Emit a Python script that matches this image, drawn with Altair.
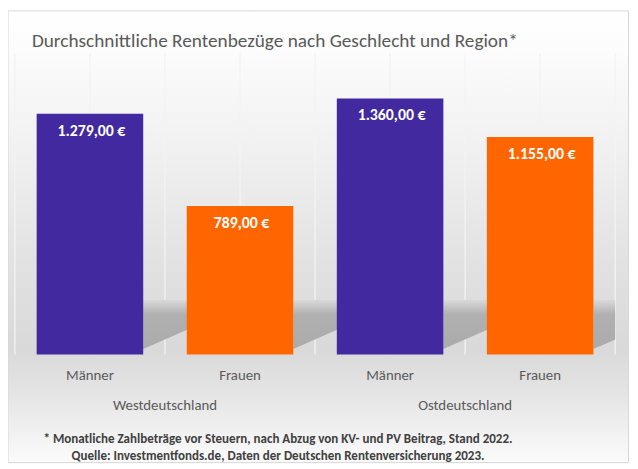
import altair as alt
import pandas as pd

# ---------------- data ----------------
regions = ["Westdeutschland", "Westdeutschland", "Ostdeutschland", "Ostdeutschland"]
genders = ["Männer", "Frauen", "Männer", "Frauen"]
values = [1279, 789, 1360, 1155]
value_labels = ["1.279,00 €", "789,00 €", "1.360,00 €", "1.155,00 €"]
gender_order = ["Männer", "Frauen"]
gender_colors = ["#4229A0", "#FF6600"]
group_names = ["Westdeutschland", "Ostdeutschland"]
group_slots = [1, 3]                      # centre of each group in category-slot units
grid_slots = [0, 0.5, 1, 1.5, 2, 2.5, 3, 3.5, 4]
title_text = "Durchschnittliche Rentenbezüge nach Geschlecht und Region*"
foot1 = "* Monatliche Zahlbeträge vor Steuern, nach  Abzug von KV- und PV Beitrag, Stand 2022."
foot2 = "Quelle: Investmentfonds.de, Daten der Deutschen Rentenversicherung 2023."

# ---------------- layout ----------------
W, H = 608, 305
PAD_L, PAD_T, PAD_R, PAD_B = 7, 43, 15, 111
P_IN, P_OUT = 0.29, 0.145
FONT = "Carlito, Lato, sans-serif"

keys = [f"{r}|{g}" for r, g in zip(regions, genders)]
df = pd.DataFrame({"key": keys, "gender": genders, "value": values, "label": value_labels})

yscale = alt.Scale(domain=[0, 1600])
qx = alt.Scale(domain=[0, 4], nice=False, zero=False)
bandx = alt.Scale(paddingInner=P_IN, paddingOuter=P_OUT)

# background with vertical gradient + thin border
bg_grad = {
    "gradient": "linear", "x1": 0, "y1": 0, "x2": 0, "y2": 1,
    "stops": [
        {"offset": 0.0, "color": "#ffffff"},
        {"offset": 0.09, "color": "#fcfcfc"},
        {"offset": 0.35, "color": "#eeeeee"},
        {"offset": 0.59, "color": "#e0e0e0"},
        {"offset": 0.75, "color": "#d9d9d9"},
        {"offset": 0.86, "color": "#e6e6e6"},
        {"offset": 1.0, "color": "#fbfbfb"},
    ],
}
bg = alt.Chart(pd.DataFrame({"a": [0]})).mark_rect(
    fill=bg_grad, stroke="#d6d6d6", strokeWidth=1
).encode(
    x=alt.value(-PAD_L), x2=alt.value(W + PAD_R - 1.5),
    y=alt.value(-PAD_T), y2=alt.value(H + PAD_B - 1.5),
)

# vertical gridlines
grid = alt.Chart(pd.DataFrame({"g": grid_slots})).mark_rule(
    color="#f3f3f3", strokeWidth=1.3
).encode(
    x=alt.X("g:Q", scale=qx, axis=None),
    y=alt.value(0), y2=alt.value(H),
)

# soft shadow cast to the right of each bar
SH_TOP, SH_LO_NEAR, SH_LO_FAR, SH_LEN = 291, 29, 134, 0.3
rows = []
for i in range(len(values)):
    x0 = i + 1 - P_OUT
    rows.append({"bar": i, "sx": x0, "lo": SH_LO_NEAR, "hi": SH_TOP})
    rows.append({"bar": i, "sx": x0 + SH_LEN, "lo": SH_LO_FAR, "hi": SH_TOP})
sh_grad = {
    "gradient": "linear", "x1": 0, "y1": 0, "x2": 0, "y2": 1,
    "stops": [
        {"offset": 0.0, "color": "#dadada"},
        {"offset": 0.3, "color": "#b0b0b0"},
        {"offset": 1.0, "color": "#ababab"},
    ],
}
shadow = alt.Chart(pd.DataFrame(rows)).mark_area(fill=sh_grad, clip=True).encode(
    x=alt.X("sx:Q", scale=qx, axis=None),
    y=alt.Y("lo:Q", scale=yscale, axis=None),
    y2="hi:Q",
    detail="bar:N",
)

bars = alt.Chart(df).mark_bar().encode(
    x=alt.X("key:N", sort=keys, scale=bandx, axis=None),
    y=alt.Y("value:Q", scale=yscale, axis=None),
    color=alt.Color("gender:N", scale=alt.Scale(domain=gender_order, range=gender_colors), legend=None),
)
vlabels = alt.Chart(df).mark_text(
    color="white", font=FONT, fontWeight="bold", fontSize=16,
    baseline="alphabetic", dy=22.2, dx=1.5,
).encode(
    x=alt.X("key:N", sort=keys, scale=bandx, axis=None),
    y=alt.Y("value:Q", scale=yscale, axis=None),
    text="label:N",
)
glabels = alt.Chart(df).mark_text(
    font=FONT, fontSize=15, color="#595959", baseline="alphabetic",
).encode(
    x=alt.X("key:N", sort=keys, scale=bandx, axis=None),
    y=alt.value(H + 26.3),
    text="gender:N",
)
bar_layer = alt.layer(bars, vlabels, glabels)

groups = alt.Chart(pd.DataFrame({"s": group_slots, "n": group_names})).mark_text(
    font=FONT, fontSize=15, color="#595959", baseline="alphabetic"
).encode(
    x=alt.X("s:Q", scale=qx, axis=None),
    y=alt.value(361.5),
    text="n:N",
)

title = alt.Chart(pd.DataFrame({"t": [title_text]})).mark_text(
    font=FONT, fontSize=19.5, color="#595959", align="left", baseline="alphabetic"
).encode(x=alt.value(17.2), y=alt.value(-6.4), text="t:N")

foot = alt.Chart(pd.DataFrame({"t": [foot1, foot2], "yy": [394.8, 411.8]})).mark_text(
    font=FONT, fontSize=13.2, fontWeight="bold", color="#404040", align="center", baseline="alphabetic"
).encode(x=alt.value(266.5), y=alt.Y("yy:Q", scale=None), text="t:N")

chart = alt.layer(bg, grid, shadow, bar_layer, groups, title, foot).resolve_scale(
    x="independent"
).properties(
    width=W, height=H,
    autosize=alt.AutoSizeParams(type="none"),
    padding={"left": PAD_L, "top": PAD_T, "right": PAD_R, "bottom": PAD_B},
).configure_view(stroke=None).configure(background="white")

chart.save("out.html", embed_options={"renderer": "svg", "actions": False})
